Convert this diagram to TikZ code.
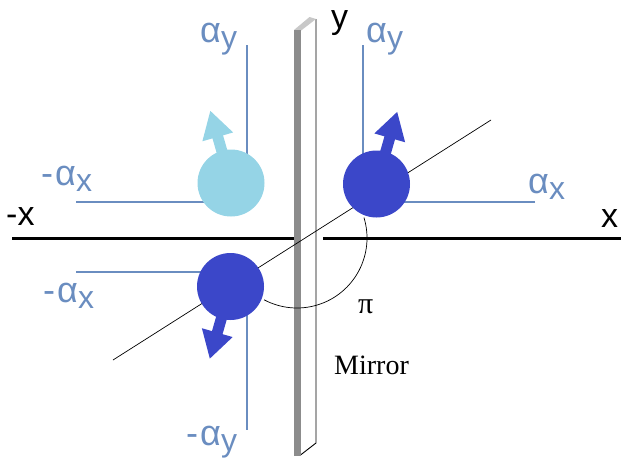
\documentclass[tikz,border=0pt]{standalone}
\usepackage{fontspec}
\setmainfont{Liberation Sans}
\newfontfamily\serifont{Liberation Serif}
\definecolor{axblue}{HTML}{6A8DC0}
\definecolor{darkball}{HTML}{3B47C9}
\definecolor{lightball}{HTML}{95D4E6}
\definecolor{mirrorgray}{HTML}{8C8C8C}
\definecolor{mirrortop}{HTML}{C8C8C8}
\newcommand\alab[2]{\fontsize{36}{36}\selectfont #1\raisebox{-6pt}{\fontsize{32}{32}\selectfont #2}}
\begin{document}
\begin{tikzpicture}[x=1pt,y=-1pt,
  ball/.style={circle,inner sep=0pt,minimum size=67pt},
  bluel/.style={draw=axblue,line width=2.5pt},
  lab/.style={inner sep=0pt,anchor=base west,text=axblue},
  axlab/.style={inner sep=0pt,anchor=base west,font=\fontsize{34}{34}\selectfont},
  thinl/.style={draw=black,line width=0.7pt},
  axisl/.style={draw=black,line width=3pt}]
\useasboundingbox (0,0) rectangle (621,458);
% mirror slab
\fill[white] (300.5,30) -- (316,19) -- (316,443) -- (300.5,455) -- cycle;
\draw[black,line width=0.9pt] (316,19) -- (316,443) -- (300.5,455);
\fill[mirrortop] (294,30) -- (300.5,31) -- (316,19) -- (309.5,17) -- cycle;
\fill[mirrorgray] (294,30) rectangle (300.5,456);
% axes
\coordinate (xl) at (12,238);
\coordinate (xlm) at (294,238);
\coordinate (xrm) at (323,238);
\coordinate (xr) at (621,238);
\draw[axisl] (xl) -- (xlm);
\draw[axisl] (xrm) -- (xr);
% blue reference lines
\coordinate (c1) at (247,202);
\coordinate (c2) at (363,202);
\coordinate (c3) at (247,272);
\coordinate (l1h) at (76,202);
\coordinate (l1v) at (247,45);
\coordinate (l2h) at (535,202);
\coordinate (l2v) at (363,45);
\coordinate (l3h) at (76,272);
\coordinate (l3v) at (247,430);
\draw[bluel] (l1h) -- (c1) -- (l1v);
\draw[bluel] (l2h) -- (c2) -- (l2v);
\draw[bluel] (l3h) -- (c3) -- (l3v);
% diagonal line and arc
\coordinate (d1) at (113,360);
\coordinate (d2) at (491,120);
\draw[thinl] (d1) -- (d2);
\coordinate (O) at (297,238);
\draw[thinl] ([shift={(-17:70)}]O) arc[start angle=-17,end angle=118,radius=70];
% balls
\node[ball,fill=lightball] (bl) at (231,183) {};
\node[ball,fill=darkball] (br) at (376.5,184) {};
\node[ball,fill=darkball] (bd) at (230.5,286.5) {};
% spin arrows
\foreach \b/\a/\c in {bl/106/lightball, br/74/darkball, bd/254/darkball}{
  \begin{scope}[shift={(\b.center)},rotate=\a]
    \fill[\c] (0,-5.5) -- (48,-5.5) -- (48,-16) -- (75,0) -- (48,16) -- (48,5.5) -- (0,5.5) -- cycle;
  \end{scope}
}
% labels
\node[lab] (t1) at (200,42) {\alab{α}{y}};
\node[lab] (t2) at (41,185) {\alab{-\kern2ptα}{x}};
\node[lab] (t3) at (366,42) {\alab{α}{y}};
\node[lab] (t4) at (528,193) {\alab{α}{x}};
\node[lab] (t5) at (43,302) {\alab{-\kern2ptα}{x}};
\node[lab] (t6) at (186,445) {\alab{-\kern2ptα}{y}};
\node[axlab] (tx1) at (6,225) {-x};
\node[axlab] (tx2) at (601,227) {x};
\node[axlab] (ty) at (331,28) {y};
\node[inner sep=0pt,anchor=base west,font=\serifont\fontsize{30}{30}\selectfont] (pi) at (358,313) {π};
\node[inner sep=0pt,anchor=base west,font=\serifont\fontsize{28}{28}\selectfont] (mir) at (334,374) {Mirror};
\end{tikzpicture}
\end{document}
